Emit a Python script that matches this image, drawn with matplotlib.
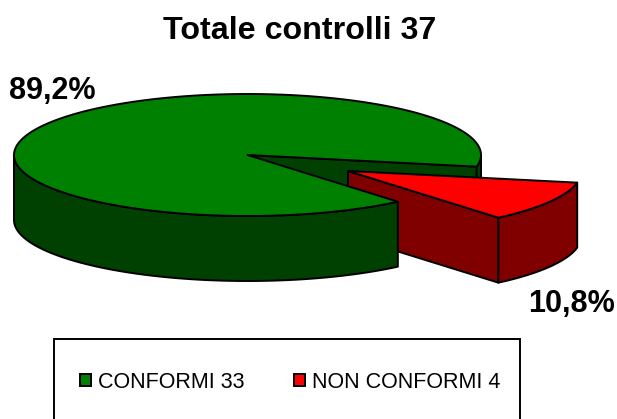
import numpy as np
import matplotlib
matplotlib.use('Agg')
import matplotlib.pyplot as plt
from matplotlib.patches import Polygon, Patch, Rectangle

plt.rcParams['font.family'] = ['Liberation Sans', 'DejaVu Sans']

######## DATA ##################################################################
categories = ['CONFORMI', 'NON CONFORMI']
counts = [33, 4]
percentLabels = ['89,2%', '10,8%']
title = 'Totale controlli 37'
################################################################################

topColors = ['#008000', '#FF0000']
sideColors = ['#004000', '#800000']
startAngle = 11.0

# pie geometry in pixels of the picture
cx, cy = 247.5, 155.0
rx, ry = 233.5, 61.0
depth = 65.0
explode = (100.5, 16.0)

def arcPts(t0, t1, dx=0, dy=0, off=0):
    t = np.radians(np.linspace(t0, t1, 200))
    return np.column_stack([cx + dx + rx*np.cos(t), cy + dy + off + ry*np.sin(t)])

def addPoly(ax, pts, color, z):
    ax.add_patch(Polygon(pts, closed=True, facecolor=color, edgecolor='black',
                         linewidth=1.4, joinstyle='round', zorder=z))

def drawSideWall(ax, t0, t1, color, z, dx=0, dy=0):
    top = arcPts(t0, t1, dx, dy)
    bot = arcPts(t1, t0, dx, dy, depth)
    addPoly(ax, np.vstack([top, bot]), color, z)

fig = plt.figure(figsize=(6.17, 4.19), dpi=100)
ax = fig.add_axes([0, 0, 1, 1])
ax.set_xlim(0, 617)
ax.set_ylim(419, 0)
ax.axis('off')

sweep = 360.0*counts[1]/sum(counts)
a0, a1 = startAngle, startAngle + sweep

# back of the main slice
p0 = arcPts(a0, a0)[0]
addPoly(ax, [(cx, cy), p0, p0 + (0, depth), (cx, cy + depth)], sideColors[0], 1)
drawSideWall(ax, 0, a0, sideColors[0], 1)

# exploded slice sits behind the main slice front
dx, dy = explode
p1 = arcPts(a1, a1, dx, dy)[0]
apex = (cx + dx, cy + dy)
addPoly(ax, [apex, p1, p1 + (0, depth), (apex[0], apex[1] + depth)], sideColors[1], 2)
drawSideWall(ax, a0, a1, sideColors[1], 2, dx, dy)
addPoly(ax, np.vstack([[apex], arcPts(a0, a1, dx, dy)]), topColors[1], 3)

# front of the main slice
drawSideWall(ax, a1, 180, sideColors[0], 4)
addPoly(ax, np.vstack([[(cx, cy)], arcPts(a1, a0 + 360)]), topColors[0], 5)

ax.text(300, 31, title, fontsize=23.2, fontweight='bold', ha='center', va='center')
ax.text(52.5, 91, percentLabels[0], fontsize=22, fontweight='bold', ha='center', va='center')
ax.text(571, 304, percentLabels[1], fontsize=22, fontweight='bold', ha='center', va='center')

# legend box runs off the bottom of the picture
ax.add_patch(Rectangle((54, 339), 466, 100, facecolor='white', edgecolor='black', linewidth=1.4, zorder=6))
handles = [Patch(facecolor=c, edgecolor='black', linewidth=1.4) for c in topColors]
labels = ['%s %d' % (c, n) for c, n in zip(categories, counts)]
leg = ax.legend(handles, labels, ncol=2, loc='upper left', bbox_to_anchor=(54/617, 1 - 346/419),
                fontsize=15.5, frameon=False, handlelength=0.5, handleheight=0.5,
                handletextpad=0.36, columnspacing=2.28, borderpad=1.2, borderaxespad=0)
leg.set_zorder(7)

fig.savefig('out.png', dpi=100)
